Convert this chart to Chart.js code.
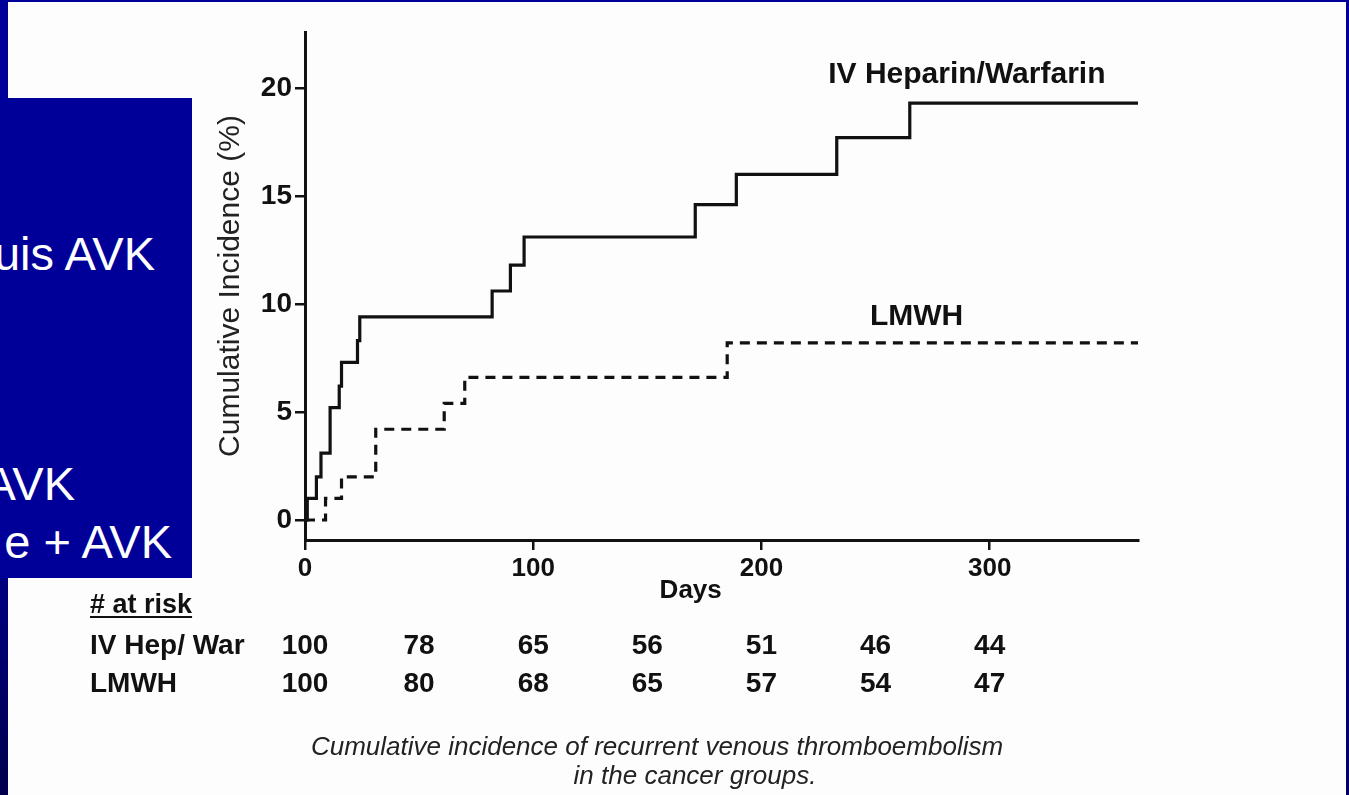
<!DOCTYPE html>
<html lang="fr">
<head>
<meta charset="UTF-8">
<title>Cumulative incidence of recurrent VTE</title>
<script src="https://cdn.jsdelivr.net/npm/chart.js"></script>
<style>
  body {
    margin: 0;
    width: 1349px;
    height: 795px;
    overflow: hidden;
    position: relative;
    background: #fdfdfd;
    font-family: "Liberation Sans", Arial, sans-serif;
  }
  #chart { position: absolute; left: 0; top: 0; }
  .frame-top { position: absolute; left: 0; top: 0; width: 1349px; height: 2px; background: #000099; }
  .frame-right { position: absolute; right: 0; top: 0; width: 3px; height: 795px; background: linear-gradient(#000099 0%, #000099 55%, #000066 100%); }
  .frame-left { position: absolute; left: 0; top: 0; width: 8px; height: 795px; background: linear-gradient(#000099 0%, #000099 60%, #00004d 100%); }
  .box {
    position: absolute; left: 0; top: 98px; width: 192px; height: 480px;
    background: #000099; overflow: hidden;
  }
  .box span {
    position: absolute; white-space: nowrap; color: #fff;
    font-size: 47px; line-height: 47px;
  }
  .caption {
    position: absolute; white-space: nowrap; color: #222;
    font-style: italic; font-size: 26px; line-height: 26px;
    transform: translateX(-50%);
  }
</style>
</head>
<body>
<canvas id="chart" width="1349" height="795"></canvas>
<div class="frame-top"></div>
<div class="frame-left"></div>
<div class="frame-right"></div>
<div class="box">
  <span style="right:37px; top:132px;">uis AVK</span>
  <span style="right:117px; top:362px;">AVK</span>
  <span style="right:20px; top:420px;">e + AVK</span>
</div>
<div class="caption" style="left:657px; top:733px;">Cumulative incidence of recurrent venous thromboembolism</div>
<div class="caption" style="left:695px; top:762px;">in the cancer groups.</div>

<script>
  // step curves: day of each event and cumulative incidence (%) after it
  const hepDays = [0, 1, 5, 7, 11, 15, 16, 23, 24, 82, 90, 96, 171, 189, 233, 265, 365];
  const hepIncidence = [0, 1.0, 2.0, 3.1, 5.2, 6.2, 7.3, 8.3, 9.4, 10.6, 11.8, 13.1, 14.6, 16.0, 17.7, 19.3, 19.3];

  const lmwhDays = [0, 9, 16, 31, 61, 70, 185, 365];
  const lmwhIncidence = [0, 1.0, 2.0, 4.2, 5.4, 6.6, 8.2, 8.2];

  const xTicks = [0, 100, 200, 300];
  const yTicks = [0, 5, 10, 15, 20];

  // number at risk table
  const riskDays = [0, 50, 100, 150, 200, 250, 300];
  const riskHep = [100, 78, 65, 56, 51, 46, 44];
  const riskLmwh = [100, 80, 68, 65, 57, 54, 47];

  const FONT = '"Liberation Sans", Arial, sans-serif';

  function toPoints(days, vals) {
    return days.map((d, i) => ({ x: d, y: vals[i] }));
  }

  const annotate = {
    id: 'annotate',
    afterDraw(chart) {
      const { ctx, scales: { x, y } } = chart;
      ctx.save();
      ctx.fillStyle = '#111';
      ctx.textAlign = 'center';
      ctx.textBaseline = 'middle';

      // curve labels
      ctx.font = 'bold 30px ' + FONT;
      ctx.fillText('IV Heparin/Warfarin', x.getPixelForValue(290), y.getPixelForValue(20.6));
      ctx.fillText('LMWH', x.getPixelForValue(268), y.getPixelForValue(9.4));

      // x axis title, a bit left of centre
      ctx.font = 'bold 26px ' + FONT;
      ctx.fillText('Days', x.getPixelForValue(169), 591);

      // at risk table
      ctx.textBaseline = 'alphabetic';
      ctx.textAlign = 'left';
      ctx.font = 'bold 27px ' + FONT;
      ctx.fillText('# at risk', 90, 613);
      const w = ctx.measureText('# at risk').width;
      ctx.fillRect(90, 616, w, 2);

      ctx.font = 'bold 28px ' + FONT;
      ctx.fillText('IV Hep/ War', 90, 654);
      ctx.fillText('LMWH', 90, 692);

      ctx.textAlign = 'center';
      riskDays.forEach((d, i) => {
        const px = x.getPixelForValue(d);
        ctx.fillText(String(riskHep[i]), px, 654);
        ctx.fillText(String(riskLmwh[i]), px, 692);
      });
      ctx.restore();
    }
  };

  new Chart(document.getElementById('chart'), {
    type: 'line',
    data: {
      datasets: [
        {
          label: 'IV Heparin/Warfarin',
          data: toPoints(hepDays, hepIncidence),
          borderColor: '#111',
          borderWidth: 3.2,
          stepped: 'before',
          pointRadius: 0,
          fill: false
        },
        {
          label: 'LMWH',
          data: toPoints(lmwhDays, lmwhIncidence),
          borderColor: '#111',
          borderWidth: 3.2,
          borderDash: [10, 7],
          stepped: 'before',
          pointRadius: 0,
          fill: false
        }
      ]
    },
    options: {
      responsive: false,
      devicePixelRatio: 1,
      animation: false,
      layout: { padding: { left: 213, top: 32, right: 211, bottom: 185 } },
      plugins: {
        legend: { display: false },
        tooltip: { enabled: false }
      },
      scales: {
        x: {
          type: 'linear',
          min: 0,
          max: 365,
          afterFit: s => { s.height = 70; },
          afterBuildTicks: s => { s.ticks = xTicks.map(v => ({ value: v })); },
          ticks: {
            includeBounds: false,
            color: '#111',
            padding: 3,
            font: { family: FONT, size: 26, weight: 'bold' },
            maxRotation: 0
          },
          grid: {
            drawOnChartArea: false,
            drawTicks: true,
            tickLength: 10,
            color: '#111',
            lineWidth: 2.5
          },
          border: { display: true, color: '#111', width: 3 }
        },
        y: {
          type: 'linear',
          min: -0.926,
          max: 22.59,
          afterFit: s => { s.width = 92; },
          afterBuildTicks: s => { s.ticks = yTicks.map(v => ({ value: v })); },
          ticks: {
            includeBounds: false,
            color: '#111',
            padding: 3,
            font: { family: FONT, size: 28, weight: 'bold' }
          },
          grid: {
            drawOnChartArea: false,
            drawTicks: true,
            tickLength: 10,
            color: '#111',
            lineWidth: 2.5
          },
          border: { display: true, color: '#111', width: 3 },
          title: {
            display: true,
            text: 'Cumulative Incidence (%)',
            color: '#222',
            padding: { top: 0, bottom: 0 },
            font: { family: FONT, size: 30, weight: 'normal' }
          }
        }
      }
    },
    plugins: [annotate]
  });
</script>
</body>
</html>
